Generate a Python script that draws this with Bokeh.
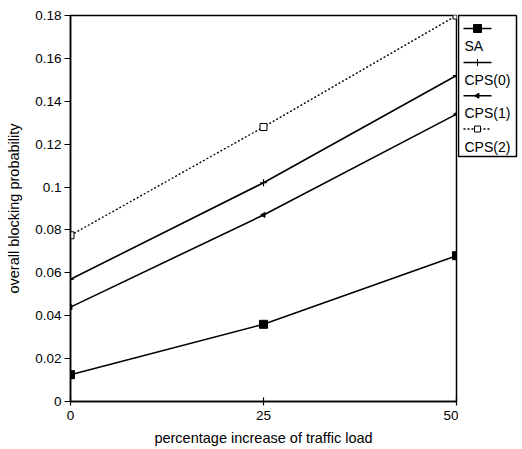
from bokeh.plotting import figure
from bokeh.layouts import row
from bokeh.models import Range1d, FixedTicker, ColumnDataSource
from bokeh.embed import file_html
from bokeh.resources import INLINE
from bokeh.core.properties import value

load_increase = [0, 25, 50]
sa = [0.0125, 0.036, 0.068]
cps0 = [0.057, 0.102, 0.152]
cps1 = [0.044, 0.087, 0.134]
cps2 = [0.0775, 0.128, 0.180]
series_names = ["SA", "CPS(0)", "CPS(1)", "CPS(2)"]
y_ticks = [0, 0.02, 0.04, 0.06, 0.08, 0.1, 0.12, 0.14, 0.16, 0.18]
y_tick_labels = ["0", "0.02", "0.04", "0.06", "0.08", "0.1", "0.12", "0.14", "0.16", "0.18"]
x_ticks = [0, 25, 50]

FONT = "Liberation Sans"

p = figure(width=458, height=448, output_backend="svg", toolbar_location=None,
           x_range=Range1d(0, 50), y_range=Range1d(0, 0.18),
           min_border_left=70, min_border_right=2, min_border_top=15, min_border_bottom=47)
p.grid.visible = False
p.outline_line_color = "black"
p.outline_line_width = 1.5
p.background_fill_color = "white"
p.border_fill_color = "white"

p.xaxis.ticker = FixedTicker(ticks=x_ticks)
p.yaxis.ticker = FixedTicker(ticks=y_ticks)
p.yaxis.major_label_overrides = {t: l for t, l in zip(y_ticks, y_tick_labels)}
for ax in (p.xaxis[0], p.yaxis[0]):
    ax.axis_line_width = 1.5
    ax.axis_line_color = "black"
    ax.major_tick_line_color = "black"
    ax.major_tick_line_width = 1.2
    ax.minor_tick_line_color = None
    ax.major_label_text_font = FONT
    ax.major_label_text_font_size = "13.5px"
    ax.major_label_text_color = "black"
    ax.axis_label_text_font = FONT
    ax.axis_label_text_font_size = "14.5px"
    ax.axis_label_text_font_style = "normal"
    ax.axis_label_text_color = "black"
p.yaxis.major_tick_out = 6
p.yaxis.major_tick_in = 0
p.yaxis.major_label_standoff = 3
p.xaxis.major_tick_out = 4
p.xaxis.major_tick_in = 4
p.yaxis.axis_label = "overall blocking probability"
p.xaxis.axis_label = "percentage increase of traffic load"
p.xaxis.axis_label_standoff = 7
p.yaxis.axis_label_standoff = 10

src = ColumnDataSource(dict(x=load_increase, sa=sa, cps0=cps0, cps1=cps1, cps2=cps2))
p.line("x", "sa", source=src, line_color="black", line_width=1.6)
p.scatter("x", "sa", source=src, marker="square", size=8, fill_color="black", line_color="black")
p.line("x", "cps0", source=src, line_color="black", line_width=1.6)
p.scatter("x", "cps0", source=src, marker="cross", size=7, line_color="black", line_width=1.2)
p.line("x", "cps1", source=src, line_color="black", line_width=1.6)
p.scatter("x", "cps1", source=src, marker="triangle", size=5, angle=1.5708, fill_color="black", line_color="black")
p.line("x", "cps2", source=src, line_color="black", line_width=1.3, line_dash="2 2")
p.scatter("x", "cps2", source=src, marker="square", size=7, fill_color="white", line_color="black", line_width=1)

# legend drawn as a small separate panel to the right
leg = figure(width=60, height=203, output_backend="svg", toolbar_location=None,
             x_range=Range1d(460, 518), y_range=Range1d(202, 7),
             min_border_left=0, min_border_right=2, min_border_top=7, min_border_bottom=1,
             x_axis_type=None, y_axis_type=None)
leg.grid.visible = False
leg.outline_line_color = "black"
leg.outline_line_width = 1.5
leg.border_fill_color = "white"
line_y = [25, 72, 118, 164]
text_y = [49, 96, 142, 189]
markers = [("square", 8, "black"), ("cross", 7, None), ("triangle", 5, "black"), ("square", 6, "white")]
dashes = ["solid", "solid", "solid", "2 2"]
for name, ly, ty, (m, s, fc), d in zip(series_names, line_y, text_y, markers, dashes):
    leg.line([465, 493], [ly, ly], line_color="black", line_width=1.5, line_dash=d)
    leg.scatter([479], [ly], marker=m, size=s, fill_color=fc, line_color="black",
                angle=1.5708 if m == "triangle" else 0)
    leg.text([466], [ty], text=[name], text_font=value(FONT), text_font_size="14px",
             text_baseline="middle", text_align="left", text_color="black")

layout = row(p, leg, spacing=0)
open("out.html", "w").write(file_html(layout, INLINE))
